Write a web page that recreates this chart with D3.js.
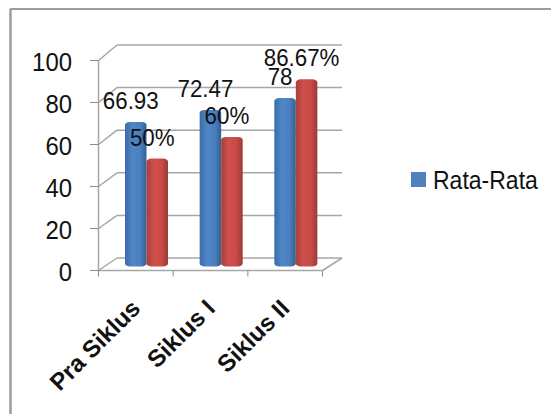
<!DOCTYPE html>
<html>
<head>
<meta charset="utf-8">
<script src="https://cdn.jsdelivr.net/npm/d3@7"></script>
<style>
html,body{margin:0;padding:0;background:#fff}
svg{display:block}
text{font-family:"Liberation Sans",sans-serif;fill:#111}
</style>
</head>
<body>
<svg id="chart" width="551" height="414"></svg>
<script>
const categories = ["Pra Siklus", "Siklus I", "Siklus II"];
const rataRata = [66.93, 72.47, 78];
const ketuntasan = [50, 60, 86.67];
const ketuntasanLabels = ["50%", "60%", "86.67%"];
const yTicks = [0, 20, 40, 60, 80, 100];
const legendLabels = ["Rata-Rata"];

const svg = d3.select("#chart");

// Cylinder shading for the bars
const defs = svg.append("defs");
function shade(id, stops) {
  const g = defs.append("linearGradient").attr("id", id);
  stops.forEach(([o, c]) => g.append("stop").attr("offset", o).attr("stop-color", c));
}
shade("blueBar", [[0, "#3a6ca6"], [0.35, "#4f86c8"], [0.7, "#4a7fc0"], [1, "#33608f"]]);
shade("redBar", [[0, "#a83f3c"], [0.35, "#cf4f4c"], [0.7, "#c94b47"], [1, "#9b3936"]]);

// Chart frame: top and left edges run off the page
const frame = svg.append("g").attr("stroke", "#9c9c9c");
frame.append("line").attr("x1", 10).attr("x2", 551).attr("y1", 9).attr("y2", 9).attr("stroke-width", 2);
frame.append("line").attr("x1", 10.5).attr("x2", 10.5).attr("y1", 9).attr("y2", 414).attr("stroke-width", 2.5);

// Front plane, back wall and bar scales of the pseudo-3D plot
const yFront = d3.scaleLinear().domain([0, 100]).range([270.5, 60.5]);
const yBack = d3.scaleLinear().domain([0, 100]).range([258, 45]);
const yBar = d3.scaleLinear().domain([0, 100]).range([266.5, 50.5]);
const xFront = d3.scaleBand().domain(categories).range([98.5, 322.5]);
const backLeft = 117, backRight = 342;
const barGroup = d3.scaleBand().domain(["a", "b"]).range([26.5, 69.5]);

const plot = svg.append("g").attr("fill", "none").attr("stroke", "#a6a6a6").attr("stroke-width", 1.5);

// Gridlines on the back wall with their slanted side-wall segments
yTicks.forEach(t => {
  plot.append("line").attr("x1", backLeft).attr("x2", backRight).attr("y1", yBack(t)).attr("y2", yBack(t));
  plot.append("line").attr("x1", xFront.range()[0]).attr("x2", backLeft).attr("y1", yFront(t)).attr("y2", yBack(t));
});
plot.append("line").attr("x1", xFront.range()[0]).attr("x2", xFront.range()[0])
  .attr("y1", yFront(0)).attr("y2", yFront(100));
plot.append("line").attr("x1", xFront.range()[0]).attr("x2", xFront.range()[1])
  .attr("y1", yFront(0)).attr("y2", yFront(0));
plot.append("line").attr("x1", xFront.range()[1]).attr("x2", backRight)
  .attr("y1", yFront(0)).attr("y2", yBack(0));

// Tick marks on both axes
const ticks = svg.append("g").attr("stroke", "#8c8c8c").attr("stroke-width", 1);
yTicks.forEach(t => ticks.append("line").attr("x1", 90).attr("x2", xFront.range()[0])
  .attr("y1", yFront(t)).attr("y2", yFront(t)));
[...categories.map(c => xFront(c)), xFront.range()[1]].forEach(x =>
  ticks.append("line").attr("x1", x).attr("x2", x).attr("y1", yFront(0)).attr("y2", yFront(0) + 6));

// Bars: a rounded cylinder for each series in each category
function bars(values, key, fill) {
  svg.append("g").selectAll("rect").data(values).join("rect")
    .attr("x", (d, i) => xFront(categories[i]) + barGroup(key))
    .attr("width", barGroup.bandwidth())
    .attr("y", d => yBar(d))
    .attr("height", d => yBar(0) - yBar(d))
    .attr("rx", 5).attr("ry", 3)
    .attr("fill", fill);
}
bars(rataRata, "a", "url(#blueBar)");
bars(ketuntasan, "b", "url(#redBar)");

// Value labels above the bars, in a slightly condensed face
const condense = 0.93;
function valueLabels(values, key, texts) {
  svg.append("g").selectAll("text").data(values).join("text")
    .attr("transform", (d, i) => {
      const x = xFront(categories[i]) + barGroup(key) + barGroup.bandwidth() / 2 - 5;
      return `translate(${x},${yBar(d) - 13}) scale(${condense},1)`;
    })
    .attr("text-anchor", "middle").attr("font-size", 24)
    .text(texts);
}
valueLabels(rataRata, "a", d => d);
valueLabels(ketuntasan, "b", (d, i) => ketuntasanLabels[i]);

// Value axis labels
svg.append("g").selectAll("text").data(yTicks).join("text")
  .attr("transform", d => `translate(72,${yFront(d) + 10}) scale(0.92,1)`)
  .attr("text-anchor", "end").attr("font-size", 26)
  .text(d => d);

// Category labels rotated along the axis
svg.append("g").selectAll("text").data(categories).join("text")
  .attr("transform", d => `translate(${xFront(d) + xFront.bandwidth() / 2 - 6},${298}) rotate(-45)`)
  .attr("text-anchor", "end").attr("font-size", 24).attr("font-weight", "bold")
  .attr("dy", "0.7em")
  .text(d => d);

// Legend
const legend = svg.append("g").selectAll("g").data(legendLabels).join("g");
legend.append("rect").attr("x", 411).attr("y", 172).attr("width", 15).attr("height", 15).attr("fill", "#4f81bd");
legend.append("text").attr("transform", "translate(433,189) scale(0.92,1)").attr("font-size", 25).text(d => d);
</script>
</body>
</html>
